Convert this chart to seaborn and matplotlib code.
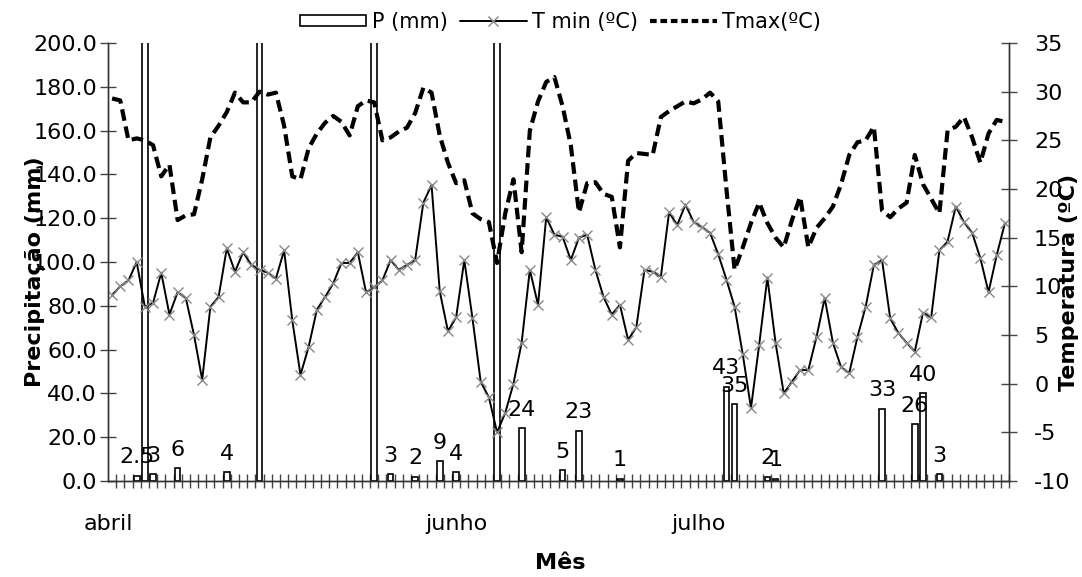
import numpy as np
import pandas as pd
import matplotlib
matplotlib.use("Agg")
import matplotlib.pyplot as plt
import seaborn as sns
from matplotlib.patches import Patch
from matplotlib.lines import Line2D
from matplotlib.ticker import FixedLocator, FormatStrFormatter, MultipleLocator

# ---------------- data ----------------
tmax = [29.3, 29.1, 25.0, 25.2, 25.0, 24.5, 21.3, 22.5, 16.8, 17.3,
        17.4, 21.0, 25.3, 26.5, 27.9, 29.9, 28.9, 28.9, 30.0, 29.7,
        29.9, 26.5, 21.3, 21.0, 24.2, 25.7, 26.8, 27.5, 26.9, 25.5,
        28.5, 29.1, 28.9, 25.0, 25.3, 25.9, 26.3, 27.8, 30.4, 29.9,
        25.5, 22.7, 20.6, 20.9, 17.5, 16.9, 16.6, 12.4, 17.5, 21.0,
        13.5, 26.0, 29.0, 31.0, 31.5, 28.5, 24.5, 17.6, 20.6, 20.7,
        19.5, 19.2, 14.0, 22.9, 23.7, 23.6, 23.5, 27.4, 28.0, 28.5,
        29.0, 28.8, 29.2, 29.9, 29.0, 20.0, 11.7, 14.0, 16.5, 18.6,
        16.5, 15.0, 14.0, 16.8, 19.2, 14.0, 16.0, 17.0, 18.2, 20.5,
        23.5, 24.8, 25.0, 26.4, 17.8, 17.1, 18.0, 18.6, 23.5, 20.5,
        19.0, 17.5, 26.0, 26.4, 27.4, 25.3, 22.7, 25.7, 27.1, 26.9]

tmin = [9.1, 10.0, 10.6, 12.5, 7.9, 8.3, 11.4, 7.1, 9.4, 8.8,
        5.0, 0.4, 7.9, 8.9, 13.9, 11.5, 13.5, 12.2, 11.7, 11.4,
        10.8, 13.7, 6.5, 0.9, 3.8, 7.6, 8.9, 10.3, 12.4, 12.4,
        13.5, 9.4, 9.9, 10.6, 12.7, 11.7, 12.2, 12.7, 18.6, 20.4,
        9.5, 5.4, 6.8, 12.7, 6.7, 0.2, -1.4, -5.0, -3.0, 0.0,
        4.2, 11.7, 8.1, 17.1, 15.3, 15.1, 12.7, 15.0, 15.3, 11.7,
        8.9, 7.1, 8.1, 4.5, 5.8, 11.7, 11.5, 11.0, 17.6, 16.3,
        18.4, 16.6, 16.1, 15.5, 13.3, 10.7, 7.9, 3.0, -2.5, 4.0,
        10.9, 4.2, -1.0, 0.2, 1.4, 1.4, 4.8, 8.8, 4.2, 1.7,
        1.1, 4.8, 7.9, 12.2, 12.7, 6.7, 5.2, 4.2, 3.3, 7.3,
        6.8, 13.7, 14.6, 18.2, 16.6, 15.5, 12.9, 9.4, 13.2, 16.5]

rain_day = [3, 4, 5, 8, 14, 18, 32, 34, 37, 40, 42, 47, 50, 55, 57, 62,
            75, 76, 80, 81, 94, 98, 99, 101]
rain_mm = [2.5, 250, 3, 6, 4, 250, 250, 3, 2, 9, 4, 250, 24, 5, 23, 1,
           43, 35, 2, 1, 33, 26, 40, 3]

month_pos = [-0.5, 42, 71.6]
month_labels = ["abril", "junho", "julho"]

# ---------------- style ----------------
sns.set_style("white")
plt.rcParams["font.family"] = ["DejaVu Sans"]
plt.rcParams["axes.unicode_minus"] = False
plt.rcParams["text.color"] = "black"
plt.rcParams["axes.labelcolor"] = "black"
plt.rcParams["xtick.color"] = "black"
plt.rcParams["ytick.color"] = "black"

days = np.arange(len(tmax))
df_t = pd.DataFrame({"dia": days, "tmax": tmax, "tmin": tmin})
df_p = pd.DataFrame({"dia": rain_day, "mm": rain_mm})

fig = plt.figure(figsize=(10.82, 5.77), dpi=100)
ax = fig.add_axes([108 / 1082, 1 - 481 / 577, 901 / 1082, 438 / 577])

sns.barplot(data=df_p, x="dia", y="mm", native_scale=True, width=0.7,
            color="white", edgecolor="black", linewidth=1.2, saturation=1,
            errorbar=None, ax=ax)

for d, v in zip(rain_day, rain_mm):
    if v <= 200:
        txt = f"{v:g}"
        ax.annotate(txt, (d, v), xytext=(0, 6), textcoords="offset points",
                    ha="center", va="bottom", fontsize=16, color="black")

ax.set_xlim(-0.5, len(tmax) - 0.5)
ax.set_ylim(0, 200)
ax.yaxis.set_major_locator(MultipleLocator(20))
ax.yaxis.set_major_formatter(FormatStrFormatter("%.1f"))
ax.xaxis.set_major_locator(FixedLocator(month_pos))
ax.set_xticklabels(month_labels)
ax.xaxis.set_minor_locator(FixedLocator(np.arange(-0.5, len(tmax), 1)))
ax.tick_params(axis="x", which="major", length=0, pad=24, labelsize=16,
               labelcolor="black")
ax.tick_params(axis="x", which="minor", direction="inout", length=10,
               width=1, color="#444444", bottom=True)
ax.tick_params(axis="y", direction="inout", length=12, width=1, pad=2,
               labelsize=16, left=True, color="#444444", labelcolor="black")

ax2 = ax.twinx()
sns.lineplot(data=df_t, x="dia", y="tmax", ax=ax2, color="black", lw=3.0)
sns.lineplot(data=df_t, x="dia", y="tmin", ax=ax2, color="black", lw=1.4,
             marker="x", markersize=7.5, markeredgecolor="#888888",
             markeredgewidth=1.0)
ax2.lines[0].set_dashes([2.8, 1.4])
ax2.set_ylim(-10, 35)
ax2.yaxis.set_major_locator(MultipleLocator(5))
ax2.tick_params(axis="y", direction="inout", length=12, width=1, pad=12,
                labelsize=16, right=True, color="#444444", labelcolor="black")

for a in (ax, ax2):
    a.spines["top"].set_visible(False)
    for s in ("left", "right", "bottom"):
        a.spines[s].set_color("#333333")
        a.spines[s].set_linewidth(1.0)

ax.set_xlabel("Mês", fontsize=16, fontweight="bold", color="black")
ax.xaxis.set_label_coords(0.502, -0.164)
ax.set_ylabel("Precipitação (mm)", fontsize=16, fontweight="bold", color="black")
ax.yaxis.set_label_coords(-0.07, 0.479)
ax2.set_ylabel("Temperatura (ºC)", fontsize=16, fontweight="bold", color="black")
ax2.yaxis.set_label_coords(1.056, 0.454)

handles = [
    Patch(facecolor="white", edgecolor="black", linewidth=1.2),
    Line2D([], [], color="black", lw=1.4, marker="x", markersize=7.5,
           markeredgecolor="#888888"),
    Line2D([], [], color="black", lw=3.0, dashes=[1.6, 0.9]),
]
fig.legend(handles, ["P (mm)", "T min (ºC)", "Tmax(ºC)"], loc="center",
           bbox_to_anchor=(0.518, 0.962), ncol=3, frameon=False, fontsize=15,
           handlelength=3.2, handleheight=0.5, columnspacing=0.6,
           handletextpad=0.25)

fig.savefig("out.png", dpi=100, facecolor="white")
